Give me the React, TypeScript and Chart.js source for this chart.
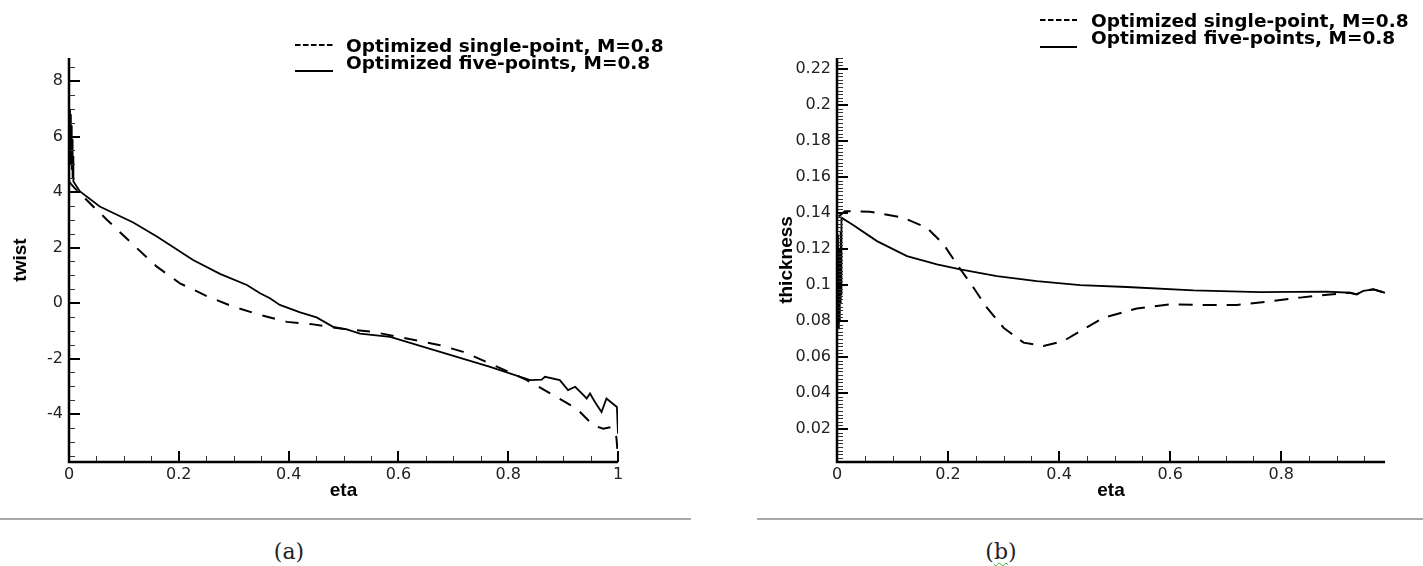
import React, { useEffect, useRef } from 'react';
import { Chart, registerables } from 'chart.js';

Chart.register(...registerables);

// ---------- Panel (a): twist vs eta ----------
const ETA_A_SINGLE = [0, 0.003, 0.01, 0.02, 0.044, 0.069, 0.117, 0.16, 0.202, 0.251, 0.299, 0.348, 0.397, 0.445, 0.494, 0.554, 0.615, 0.676, 0.718, 0.767, 0.834, 0.882, 0.925, 0.955, 0.973, 0.988, 0.997, 1.0];
const TWIST_SINGLE = [4.4, 4.3, 4.15, 3.95, 3.48, 3.0, 2.1, 1.31, 0.71, 0.25, -0.13, -0.43, -0.68, -0.77, -0.92, -1.04, -1.28, -1.52, -1.76, -2.18, -2.78, -3.32, -3.81, -4.41, -4.53, -4.47, -4.83, -5.55];

const ETA_A_FIVE = [0.001, 0.0018, 0.0026, 0.0034, 0.0042, 0.005, 0.0058, 0.0066, 0.0074, 0.008, 0.02, 0.056, 0.117, 0.16, 0.226, 0.275, 0.324, 0.348, 0.366, 0.384, 0.421, 0.451, 0.481, 0.506, 0.53, 0.585, 0.676, 0.767, 0.84, 0.861, 0.867, 0.894, 0.909, 0.922, 0.934, 0.943, 0.949, 0.958, 0.97, 0.979, 0.998, 1.0];
const TWIST_FIVE = [7.0, 5.4, 6.8, 5.0, 6.4, 4.8, 5.9, 4.5, 5.3, 4.38, 4.02, 3.48, 2.9, 2.4, 1.55, 1.05, 0.65, 0.35, 0.17, -0.07, -0.34, -0.52, -0.86, -0.95, -1.1, -1.22, -1.76, -2.3, -2.78, -2.76, -2.66, -2.78, -3.14, -3.02, -3.26, -3.44, -3.26, -3.57, -3.93, -3.44, -3.75, -4.71];

const X_TICKS_A = [0, 0.2, 0.4, 0.6, 0.8, 1];
const Y_TICKS_A = [-4, -2, 0, 2, 4, 6, 8];

// ---------- Panel (b): thickness vs eta ----------
const ETA_B_SINGLE = [0.003, 0.014, 0.059, 0.119, 0.162, 0.192, 0.216, 0.246, 0.27, 0.3, 0.336, 0.372, 0.408, 0.438, 0.48, 0.54, 0.6, 0.66, 0.72, 0.774, 0.834, 0.888, 0.924, 0.936, 0.948, 0.966, 0.987];
const THICK_SINGLE = [0.138, 0.141, 0.1407, 0.1374, 0.1318, 0.1226, 0.1115, 0.0985, 0.0874, 0.0763, 0.068, 0.0661, 0.0689, 0.0744, 0.0818, 0.087, 0.0893, 0.0889, 0.0889, 0.0907, 0.093, 0.0948, 0.0957, 0.0948, 0.0967, 0.0976, 0.0957];

const ETA_B_FIVE = [0.001, 0.0018, 0.0026, 0.0034, 0.0042, 0.005, 0.0058, 0.0066, 0.0074, 0.008, 0.029, 0.072, 0.126, 0.18, 0.222, 0.288, 0.36, 0.438, 0.522, 0.642, 0.762, 0.882, 0.924, 0.936, 0.948, 0.966, 0.987];
const THICK_FIVE = [0.084, 0.128, 0.076, 0.12, 0.08, 0.118, 0.09, 0.13, 0.095, 0.1374, 0.1333, 0.1244, 0.1161, 0.1115, 0.1087, 0.105, 0.1022, 0.1, 0.0989, 0.097, 0.0961, 0.0963, 0.0957, 0.0948, 0.0967, 0.0976, 0.0957];

const X_TICKS_B = [0, 0.2, 0.4, 0.6, 0.8];
const Y_TICKS_B = [0.02, 0.04, 0.06, 0.08, 0.1, 0.12, 0.14, 0.16, 0.18, 0.2, 0.22];

const LEGEND_LABELS = ['Optimized single-point, M=0.8', 'Optimized five-points, M=0.8'];
const X_TITLE = 'eta';
const Y_TITLES = ['twist', 'thickness'];
const CAPTIONS = ['(a)', '(b)'];

const fmt = (v: number) => String(parseFloat(Number(v).toFixed(3)));

const frameTicksPlugin = {
  id: 'frameTicks',
  afterDraw(chart: any, _args: any, o: any) {
    const { ctx, chartArea } = chart;
    const { left, right, top, bottom } = chartArea;
    const xs = chart.scales.x;
    const ys = chart.scales.y;
    ctx.save();
    ctx.strokeStyle = '#333';
    ctx.lineWidth = 1;
    ctx.beginPath();
    for (let k = Math.ceil(xs.min / o.xMinor - 1e-9); k * o.xMinor <= xs.max + 1e-9; k++) {
      const px = Math.round(xs.getPixelForValue(k * o.xMinor)) + 0.5;
      ctx.moveTo(px, bottom);
      ctx.lineTo(px, bottom - o.minorLen);
    }
    for (let k = Math.ceil(ys.min / o.yMinor - 1e-9); k * o.yMinor <= ys.max + 1e-9; k++) {
      const py = Math.round(ys.getPixelForValue(k * o.yMinor)) + 0.5;
      ctx.moveTo(left, py);
      ctx.lineTo(left + o.minorLen, py);
    }
    ctx.stroke();
    ctx.strokeStyle = '#000';
    ctx.lineWidth = 2;
    ctx.beginPath();
    xs.ticks.forEach((t: any) => {
      const px = Math.round(xs.getPixelForValue(t.value));
      ctx.moveTo(px, bottom);
      ctx.lineTo(px, bottom - o.majorLen);
    });
    ys.ticks.forEach((t: any) => {
      const py = Math.round(ys.getPixelForValue(t.value));
      ctx.moveTo(left, py);
      ctx.lineTo(left + o.majorLen, py);
    });
    ctx.stroke();
    ctx.lineWidth = 2.5;
    ctx.beginPath();
    ctx.moveTo(left, top);
    ctx.lineTo(left, bottom);
    ctx.lineTo(right, bottom);
    ctx.stroke();
    ctx.restore();
  },
};

const seriesKeyPlugin = {
  id: 'seriesKey',
  afterDraw(chart: any, _args: any, o: any) {
    const ctx = chart.ctx;
    ctx.save();
    ctx.strokeStyle = '#000';
    ctx.lineWidth = 1.8;
    ctx.setLineDash([5.5, 2.5]);
    ctx.beginPath();
    ctx.moveTo(o.x0, o.dashY);
    ctx.lineTo(o.x1, o.dashY);
    ctx.stroke();
    ctx.setLineDash([]);
    ctx.lineWidth = 2;
    ctx.beginPath();
    ctx.moveTo(o.x0, o.solidY);
    ctx.lineTo(o.x1, o.solidY);
    ctx.stroke();
    ctx.fillStyle = '#000';
    ctx.font = 'bold 18.5px "DejaVu Sans"';
    ctx.textBaseline = 'alphabetic';
    ctx.textAlign = 'left';
    ctx.fillText(LEGEND_LABELS[0], o.textX, o.base1);
    ctx.fillText(LEGEND_LABELS[1], o.textX, o.base2);
    ctx.restore();
  },
};

type Spec = {
  single: { x: number; y: number }[];
  five: { x: number; y: number }[];
  xMin: number; xMax: number; yMin: number; yMax: number;
  xTicks: number[]; yTicks: number[];
  xMinor: number; yMinor: number;
  yTitle: string; yTitlePad: number; yAxisWidth: number; padRight: number;
  legend: any;
  dash: number[];
};

function buildConfig(s: Spec): any {
  return {
    type: 'line',
    data: {
      datasets: [
        {
          label: LEGEND_LABELS[0],
          data: s.single,
          borderColor: '#000',
          borderWidth: 2,
          borderDash: s.dash,
          pointRadius: 0,
          fill: false,
          tension: 0,
        },
        {
          label: LEGEND_LABELS[1],
          data: s.five,
          borderColor: '#000',
          borderWidth: 1.8,
          pointRadius: 0,
          fill: false,
          tension: 0,
        },
      ],
    },
    options: {
      animation: false,
      responsive: false,
      devicePixelRatio: 1,
      layout: { padding: { top: 58, right: s.padRight, bottom: 0, left: 0 } },
      plugins: {
        legend: { display: false },
        tooltip: { enabled: false },
        frameTicks: { xMinor: s.xMinor, yMinor: s.yMinor, majorLen: 11, minorLen: 6 },
        seriesKey: s.legend,
      },
      scales: {
        x: {
          type: 'linear',
          position: 'bottom',
          min: s.xMin,
          max: s.xMax,
          afterFit: (sc: any) => { sc.height = 48; },
          afterBuildTicks: (sc: any) => { sc.ticks = s.xTicks.map((v) => ({ value: v })); },
          grid: { display: false, drawTicks: false },
          border: { display: false },
          ticks: {
            autoSkip: false,
            maxRotation: 0,
            padding: 3,
            color: '#222',
            font: { family: 'DejaVu Sans', size: 16 },
            callback: (v: any) => fmt(v),
          },
          title: {
            display: true,
            text: X_TITLE,
            color: '#000',
            font: { family: 'Liberation Sans', size: 19, weight: 'bold' },
            padding: { top: 0, bottom: 8 },
          },
        },
        y: {
          type: 'linear',
          position: 'left',
          min: s.yMin,
          max: s.yMax,
          afterFit: (sc: any) => { sc.width = s.yAxisWidth; },
          afterBuildTicks: (sc: any) => { sc.ticks = s.yTicks.map((v) => ({ value: v })); },
          grid: { display: false, drawTicks: false },
          border: { display: false },
          ticks: {
            autoSkip: false,
            padding: 6,
            color: '#222',
            font: { family: 'DejaVu Sans', size: 16 },
            callback: (v: any) => fmt(v),
          },
          title: {
            display: true,
            text: s.yTitle,
            color: '#000',
            font: { family: 'Liberation Sans', size: 19, weight: 'bold' },
            padding: { top: s.yTitlePad, bottom: 0 },
          },
        },
      },
    },
    plugins: [frameTicksPlugin, seriesKeyPlugin],
  };
}

const pts = (xs: number[], ys: number[]) => xs.map((x, i) => ({ x, y: ys[i] }));

export default function App() {
  const refA = useRef<HTMLCanvasElement>(null);
  const refB = useRef<HTMLCanvasElement>(null);

  useEffect(() => {
    const a = new Chart(refA.current as HTMLCanvasElement, buildConfig({
      single: pts(ETA_A_SINGLE, TWIST_SINGLE),
      five: pts(ETA_A_FIVE, TWIST_FIVE),
      xMin: 0, xMax: 1, yMin: -5.73, yMax: 8.83,
      xTicks: X_TICKS_A, yTicks: Y_TICKS_A,
      xMinor: 0.05, yMinor: 0.5,
      yTitle: Y_TITLES[0], yTitlePad: 9, yAxisWidth: 69, padRight: 93,
      dash: [13, 11],
      legend: { x0: 295, x1: 333, dashY: 45, solidY: 71, textX: 346, base1: 51.7, base2: 69.3 },
    }));
    const b = new Chart(refB.current as HTMLCanvasElement, buildConfig({
      single: pts(ETA_B_SINGLE, THICK_SINGLE),
      five: pts(ETA_B_FIVE, THICK_FIVE),
      xMin: 0, xMax: 0.987, yMin: 0.0017, yMax: 0.2261,
      xTicks: X_TICKS_B, yTicks: Y_TICKS_B,
      xMinor: 0.05, yMinor: 0.002,
      yTitle: Y_TITLES[1], yTitlePad: 64, yAxisWidth: 126, padRight: 38,
      dash: [14, 10],
      legend: { x0: 329, x1: 366, dashY: 20, solidY: 47, textX: 380, base1: 26.7, base2: 44.3 },
    }));
    return () => { a.destroy(); b.destroy(); };
  }, []);

  const captionStyle: React.CSSProperties = {
    position: 'absolute',
    top: 537,
    width: 80,
    textAlign: 'center',
    fontFamily: '"DejaVu Serif", serif',
    fontSize: 22,
    color: '#222',
    lineHeight: '30px',
  };

  return (
    <div style={{ position: 'absolute', left: 0, top: 0, width: 1423, height: 566, background: '#fff', overflow: 'hidden' }}>
      <canvas ref={refA} width={711} height={510} style={{ position: 'absolute', left: 0, top: 0 }} />
      <canvas ref={refB} width={712} height={510} style={{ position: 'absolute', left: 711, top: 0 }} />
      <div style={{ position: 'absolute', left: 0, top: 518, width: 691, height: 2, background: '#a8a8a8' }} />
      <div style={{ position: 'absolute', left: 757, top: 518, width: 666, height: 2, background: '#a8a8a8' }} />
      <div style={{ ...captionStyle, left: 289 - 40 }}>{CAPTIONS[0]}</div>
      <div style={{ ...captionStyle, left: 1001 - 40 }}>
        (<span style={{ textDecoration: 'underline wavy #3a3', textDecorationThickness: '1px', textUnderlineOffset: '3px' }}>b</span>)
      </div>
    </div>
  );
}
